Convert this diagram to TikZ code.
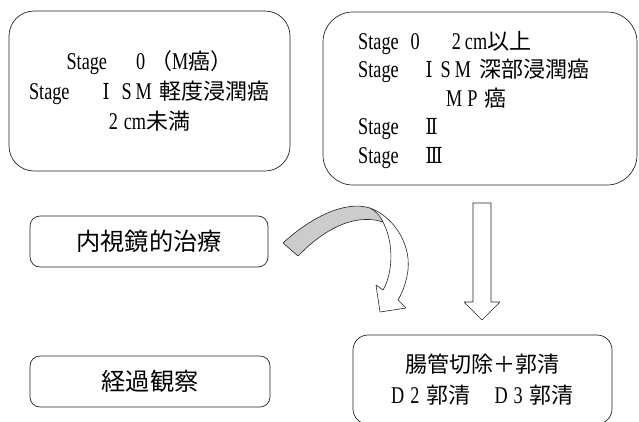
\documentclass[tikz,border=0pt]{standalone}
\usepackage{fontspec}
\setmainfont{Liberation Serif}[FakeStretch=0.76]
\newfontfamily\cjkfont{Noto Sans CJK JP}[Scale=0.917]
\newfontfamily\romfont{DejaVu Serif}[FakeStretch=0.8, Scale=0.92]
\newcommand\jpn[1]{{\cjkfont #1}}
\newcommand\rmn[1]{{\romfont #1}}
\begin{document}
\begin{tikzpicture}[x=1pt,y=-1pt,
  box/.style={draw=black!85, line width=0.7pt, rounded corners=#1, inner sep=0pt,
    font=\fontsize{24}{30}\selectfont},
  box/.default=10pt,
  arrowline/.style={draw=black!85, line width=0.6pt, line join=round}]
\useasboundingbox (0,0) rectangle (639,421);
\clip (0,0) rectangle (639,421);
% top left box
\node[box=25pt, minimum width=281pt, minimum height=160pt, align=center] (b1) at (149.5,91)
  {Stage\hspace{29pt}0\hspace{5pt}\jpn{（}M\jpn{癌）}\\
   Stage\hspace{33pt}\rmn{Ⅰ}\hspace{12pt}S\kern4pt M\hspace{8pt}\jpn{軽度浸潤癌}\\
   2\hspace{6pt}cm\jpn{未満}};
% top right box
\node[box=30pt, minimum width=314pt, minimum height=173pt] (b2) at (480,98.5) {};
\node[inner sep=0pt, anchor=west, align=left, font=\fontsize{24}{28.5}\selectfont] (t2) at (358,100)
  {Stage\hspace{12pt}0\hspace{32pt}2\hspace{4pt}cm\jpn{以上}\\
   Stage\hspace{27pt}\rmn{Ⅰ}\hspace{8pt}S\kern4pt M\hspace{8pt}\jpn{深部浸潤癌}\\
   \hspace{88pt}M\kern5pt P\hspace{7pt}\jpn{癌}\\
   Stage\hspace{27pt}\rmn{Ⅱ}\\
   Stage\hspace{27pt}\rmn{Ⅲ}};
% left boxes
\node[box=10pt, minimum width=238pt, minimum height=51pt, font=\fontsize{26.4}{26}\selectfont] (b3) at (149,241.5) {\jpn{内視鏡的治療}};
\node[box=10pt, minimum width=240pt, minimum height=51pt, font=\fontsize{26.4}{26}\selectfont] (b4) at (150,381.5) {\jpn{経過観察}};
% bottom right box
\node[box=15pt, minimum width=259pt, minimum height=89pt, align=center, font=\fontsize{24}{31}\selectfont] (b5) at (482.5,379.5)
  {\jpn{腸管切除＋郭清}\\
   D\hspace{6pt}2\hspace{7pt}\jpn{郭清}\hspace{24pt}D\hspace{6pt}3\hspace{7pt}\jpn{郭清}};
% straight block arrow
\draw[arrowline, fill=white] (473,203) -- (491,203) -- (491,302) -- (500,302) -- (482,320)
  -- (464,302) -- (473,302) -- cycle;
% curved twisted arrow: white lower part
\draw[arrowline, fill=white] (370,208) .. controls (390,215) and (411,240) .. (408,270)
  .. controls (406,285) and (401,295) .. (398,300) -- (406,308) -- (380,312) -- (376,285)
  -- (383,290) .. controls (392,275) and (395,245) .. (383,222) -- cycle;
% gray upper part
\draw[arrowline, fill=black!20] (283,243) .. controls (310,218) and (345,200) .. (370,208)
  .. controls (376,211) and (381,217) .. (383,222)
  .. controls (365,216) and (335,218) .. (298,256) -- cycle;
\end{tikzpicture}
\end{document}
